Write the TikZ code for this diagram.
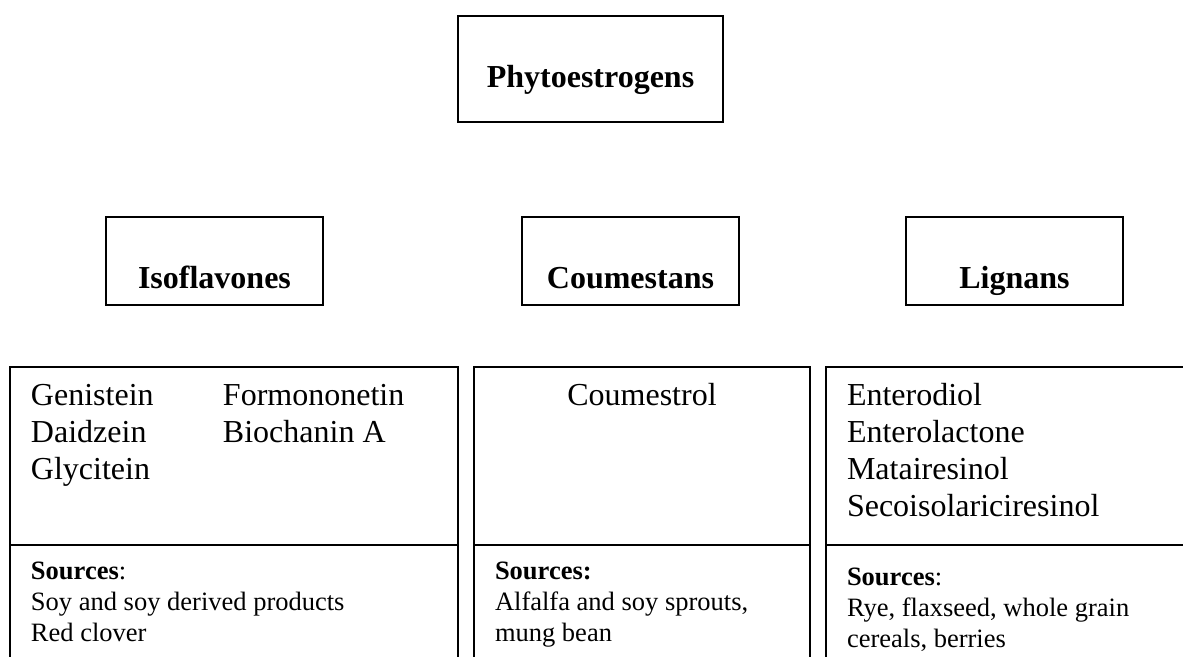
\documentclass[tikz,border=0pt]{standalone}
\usepackage{fontspec}
\setmainfont{Liberation Serif}
\usetikzlibrary{positioning}

\begin{document}
\begin{tikzpicture}[
    x=0.5pt, y=-0.5pt,
    heading/.style={
        rectangle,
        draw=black,
        line width=1pt,
        inner sep=0pt,
        text width=#1,
        text height=36pt,
        text depth=8pt,
        align=flush center,
        anchor=north west,
        font=\fontsize{16pt}{19pt}\selectfont\bfseries
    },
    listbox/.style={
        rectangle,
        draw=black,
        line width=1pt,
        inner xsep=10.5pt,
        inner ysep=0pt,
        text width=#1,
        text height=19.5pt,
        text depth=69.5pt,
        align=flush left,
        anchor=north west,
        font=\fontsize{16pt}{18.5pt}\selectfont
    },
    sourcebox/.style={
        rectangle,
        draw=black,
        line width=1pt,
        inner xsep=10.5pt,
        inner ysep=0pt,
        text width=#1,
        text height=17pt,
        text depth=55pt,
        align=flush left,
        anchor=north west,
        font=\fontsize{13.25pt}{15.5pt}\selectfont
    }
]
\useasboundingbox (0,0) rectangle (1183,657);
\clip (0,0) rectangle (1183,657);

% Title at top
\node[heading=132.5pt, text depth=17pt] (phyto) at (457,15) {Phytoestrogens};

% Three classes
\node[heading=108.5pt] (isoflav) at (105,216) {Isoflavones};
\node[heading=108.5pt] (coumest) at (521,216) {Coumestans};
\node[heading=108.5pt] (lignan) at (905,216) {Lignans};

% Compounds of each class
\node[listbox=203pt] (isolist) at (9,366) {%
    \begin{tabular}[t]{@{}p{96pt}@{}l@{}}
    Genistein & Formononetin\\
    Daidzein & Biochanin A\\
    Glycitein &
    \end{tabular}};
\node[listbox=147pt, align=flush center] (coulist) at (473,366) {Coumestrol};
\node[listbox=164pt] (liglist) at (825,366) {Enterodiol\\Enterolactone\\Matairesinol\\Secoisolariciresinol};

% Sources below
\node[sourcebox=203pt] (isosrc) at (9,544) {\textbf{Sources}:\\Soy and soy derived products\\Red clover};
\node[sourcebox=147pt] (cousrc) at (473,544) {\textbf{Sources:}\\Alfalfa and soy sprouts,\\mung bean};
\node[sourcebox=164pt, text height=20pt] (ligsrc) at (825,544) {\textbf{Sources}:\\Rye, flaxseed, whole grain\\cereals, berries};

\end{tikzpicture}
\end{document}
